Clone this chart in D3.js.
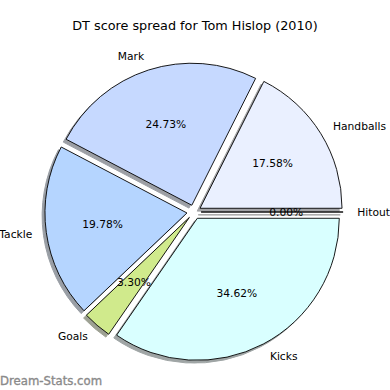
<!DOCTYPE html>
<html>
<head>
<meta charset="utf-8">
<script src="https://cdn.jsdelivr.net/npm/d3@7"></script>
<style>
  body { margin: 0; background: #fff; }
  svg { display: block; font-family: "DejaVu Sans", sans-serif; }
</style>
</head>
<body>
<div id="chart"></div>
<script>
// Data (DT points per stat, order as drawn counter-clockwise from 3 o'clock)
const CATEGORIES = ["Handballs", "Mark", "Tackle", "Goals", "Kicks", "Hitout"];
const VALUES = [32, 45, 36, 6, 63, 0];
const SLICE_COLORS = ["#eaf0ff", "#c6d9ff", "#b5d5ff", "#d0ea8c", "#d9ffff", "#ffffff"];
const EXPLODE = [0.05, 0.05, 0.05, 0.05, 0.05, 0.05];
const TITLE = "DT score spread for Tom Hislop (2010)";

const WIDTH = 390, HEIGHT = 390;
const CX = 194, CY = 212, R = 142;

const svg = d3.select("#chart")
  .append("svg")
  .attr("width", WIDTH)
  .attr("height", HEIGHT);

svg.append("text")
  .attr("x", 195)
  .attr("y", 30)
  .attr("text-anchor", "middle")
  .attr("font-size", 12.8)
  .attr("fill", "#000")
  .text(TITLE);

const total = d3.sum(VALUES);
const data = CATEGORIES.map((c, i) => ({ label: c, value: VALUES[i], color: SLICE_COLORS[i], explode: EXPLODE[i] }));

// matplotlib style: start at 3 o'clock, go counter-clockwise
const pie = d3.pie()
  .sort(null)
  .value((d) => d.value)
  .startAngle(Math.PI / 2)
  .endAngle(Math.PI / 2 - 2 * Math.PI);

const arcs = pie(data);
arcs.forEach((a) => {
  a.mid = (a.startAngle + a.endAngle) / 2;
  a.dx = a.data.explode * R * Math.sin(a.mid);
  a.dy = -a.data.explode * R * Math.cos(a.mid);
});

const arc = d3.arc().innerRadius(0).outerRadius(R);

const g = svg.append("g").attr("transform", `translate(${CX},${CY})`);

const shadowColor = (d) => {
  const c = d3.rgb(d.data.color);
  return d3.rgb(c.r * 0.3, c.g * 0.3, c.b * 0.3);
};

// shadows first, underneath all wedges
g.selectAll(".shadow")
  .data(arcs)
  .enter()
  .append("path")
  .classed("shadow", true)
  .attr("transform", (d) => `translate(${d.dx - 0.02 * R},${d.dy + 0.02 * R})`)
  .attr("d", arc)
  .attr("fill", shadowColor)
  .attr("stroke", shadowColor)
  .attr("stroke-width", 1)
  .attr("opacity", 0.5);

g.selectAll(".wedge")
  .data(arcs)
  .enter()
  .append("path")
  .classed("wedge", true)
  .attr("transform", (d) => `translate(${d.dx},${d.dy})`)
  .attr("d", arc)
  .attr("fill", (d) => d.data.color)
  .attr("stroke", "#000")
  .attr("stroke-width", 0.9)
  .attr("stroke-linejoin", "miter");

// outer labels at 1.1 r
g.selectAll(".label")
  .data(arcs)
  .enter()
  .append("text")
  .classed("label", true)
  .attr("x", (d) => d.dx + 1.1 * R * Math.sin(d.mid))
  .attr("y", (d) => d.dy - 1.1 * R * Math.cos(d.mid))
  .attr("text-anchor", (d) => (Math.sin(d.mid) > 0 ? "start" : "end"))
  .attr("dominant-baseline", "central")
  .attr("font-size", 10.7)
  .attr("fill", "#000")
  .text((d) => d.data.label);

// percentages at 0.6 r
g.selectAll(".pct")
  .data(arcs)
  .enter()
  .append("text")
  .classed("pct", true)
  .attr("x", (d) => d.dx + 0.6 * R * Math.sin(d.mid))
  .attr("y", (d) => d.dy - 0.6 * R * Math.cos(d.mid))
  .attr("text-anchor", "middle")
  .attr("dominant-baseline", "central")
  .attr("font-size", 10.7)
  .attr("fill", "#000")
  .text((d) => ((d.data.value / total) * 100).toFixed(2) + "%");

// watermark
svg.append("text")
  .attr("x", 0)
  .attr("y", 385)
  .attr("font-size", 11.7)
  .attr("fill", "#8a8a8a")
  .attr("stroke", "#8a8a8a")
  .attr("stroke-width", 0.35)
  .text("Dream-Stats.com");
</script>
</body>
</html>
